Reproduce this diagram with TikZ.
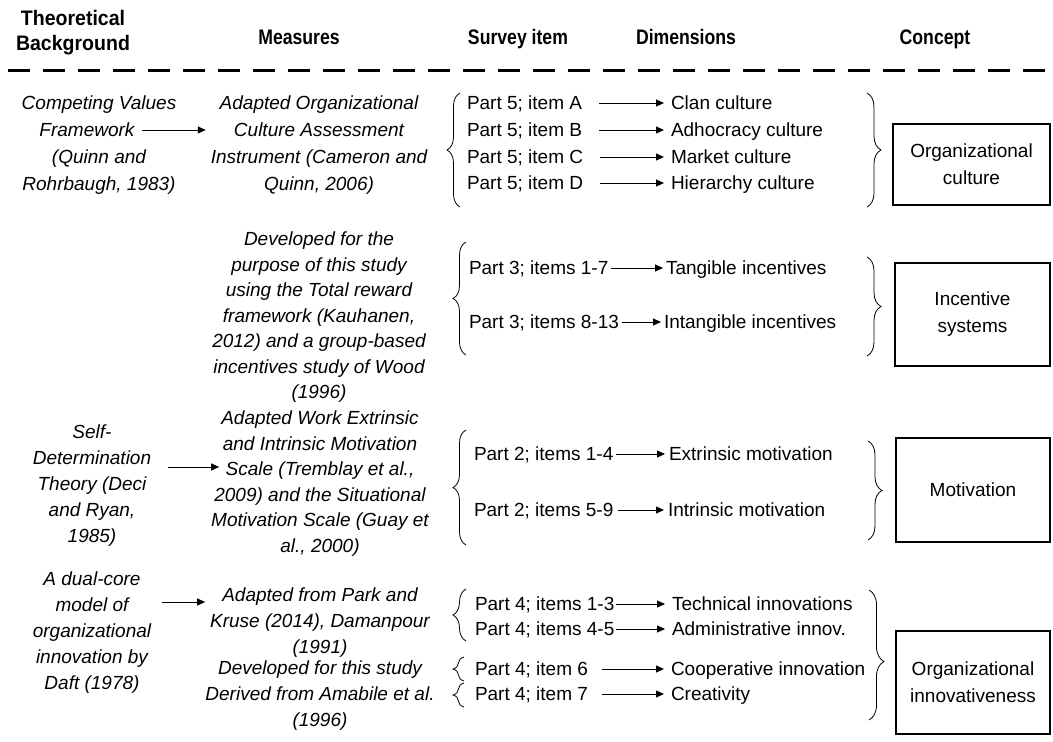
\documentclass[tikz,border=0pt]{standalone}
\usepackage{fontspec}
\setmainfont{Liberation Sans}
\newfontfamily\headfont{Liberation Sans}[FakeStretch=0.84]
\newfontfamily\headfontwide{Liberation Sans}[FakeStretch=0.93]
\usetikzlibrary{arrows.meta,decorations.pathreplacing}

\begin{document}
\begin{tikzpicture}[x=1pt,y=-1pt,
  every node/.style={inner sep=0pt,outer sep=0pt},
  hdr/.style={font=\headfont\bfseries\fontsize{21}{25}\selectfont, text height=15pt, text depth=0pt},
  src/.style={font=\itshape\fontsize{19}{#1}\selectfont, align=center, anchor=north},
  src/.default=26pt,
  lbl/.style={font=\fontsize{19}{26}\selectfont, anchor=west, text height=13.6pt, text depth=0pt},
  arr/.style={line width=0.9pt, -{Triangle[length=8pt,width=7pt]}},
  brc/.style={decorate, decoration={brace, amplitude=#1}, line width=0.8pt},
  brc/.default=13pt,
  cbox/.style={draw, line width=2.5pt, font=\fontsize{19}{27}\selectfont, align=center},
]
\useasboundingbox (0,0) rectangle (1053,742);

% column headings
\node[font=\headfontwide\bfseries\fontsize{21}{25}\selectfont, align=center] (h1) at (73,33) {Theoretical\\Background};
\node[hdr] (h2) at (299,37) {Measures};
\node[hdr] (h3) at (518,37) {Survey item};
\node[hdr] (h4) at (686,37) {Dimensions};
\node[hdr] (h5) at (935,37) {Concept};
\draw[line width=3pt, dash pattern=on 22pt off 13pt] (8,70) -- (1053,70);

% ---------- organizational culture ----------
\node[src=26.8pt] (t1) at (99,96) {Competing Values\\Framework\makebox[24pt]{}\\(Quinn and\\Rohrbaugh, 1983)};
\node[src=26.8pt] (m1) at (319,96) {Adapted Organizational\\Culture Assessment\\Instrument (Cameron and\\Quinn, 2006)};
\coordinate (a1) at (142,130);
\draw[arr, shorten >=5pt] (a1) -- (a1 -| m1.west);

\draw[brc] (460,207) -- (460,93);
\node[lbl] (i1a) at (467,103) {Part 5; item A};
\node[lbl] (i1b) at (467,130) {Part 5; item B};
\node[lbl] (i1c) at (467,157) {Part 5; item C};
\node[lbl] (i1d) at (467,183) {Part 5; item D};
\node[lbl] (d1a) at (671,103) {Clan culture};
\node[lbl] (d1b) at (671,130) {Adhocracy culture};
\node[lbl] (d1c) at (671,157) {Market culture};
\node[lbl] (d1d) at (671,183) {Hierarchy culture};
\foreach \k in {a,b,c,d}
  \draw[arr, shorten <=17pt, shorten >=7pt] (i1\k.east) -- (d1\k.west);
\draw[brc=14pt] (867,93) -- (867,207);
\node[cbox, minimum width=157pt, minimum height=81pt] (c1) at (971.5,164.5) {Organizational\\culture};

% ---------- incentive systems ----------
\node[src=25.5pt] (m2) at (319,232) {Developed for the\\purpose of this study\\using the Total reward\\framework (Kauhanen,\\2012) and a group-based\\incentives study of Wood\\(1996)};
\draw[brc] (466,355) -- (466,242);
\node[lbl] (i2a) at (469,268) {Part 3; items 1-7};
\node[lbl] (i2b) at (469,322) {Part 3; items 8-13};
\node[lbl] (d2a) at (666,268) {Tangible incentives};
\node[lbl] (d2b) at (664,322) {Intangible incentives};
\draw[arr, shorten <=3pt, shorten >=3pt] (i2a.east) -- (d2a.west);
\draw[arr, shorten <=3pt, shorten >=3pt] (i2b.east) -- (d2b.west);
\draw[brc=14pt] (867,257) -- (867,356);
\node[cbox, minimum width=155pt, minimum height=103pt] (c2) at (972.5,314.5) {Incentive\\systems};

% ---------- motivation ----------
\node[src] (t3) at (92,425) {Self-\\Determination\\Theory (Deci\\and Ryan,\\1985)};
\node[src=25.5pt] (m3) at (320,411) {Adapted Work Extrinsic\\and Intrinsic Motivation\\Scale (Tremblay et al.,\\2009) and the Situational\\Motivation Scale (Guay et\\al., 2000)};
\coordinate (a3) at (168,467);
\draw[arr, shorten >=-8pt] (a3) -- (a3 -| m3.west);

\draw[brc] (466,545) -- (466,430);
\node[lbl] (i3a) at (474,454) {Part 2; items 1-4};
\node[lbl] (i3b) at (474,510) {Part 2; items 5-9};
\node[lbl] (d3a) at (669,454) {Extrinsic motivation};
\node[lbl] (d3b) at (668,510) {Intrinsic motivation};
\draw[arr, shorten <=3pt, shorten >=4pt] (i3a.east) -- (d3a.west);
\draw[arr, shorten <=5pt, shorten >=4pt] (i3b.east) -- (d3b.west);
\draw[brc=14pt] (868,441) -- (868,540);
\node[cbox, minimum width=154pt, minimum height=104pt] (c3) at (973,490) {Motivation};

% ---------- organizational innovativeness ----------
\node[src] (t4) at (92,572) {A dual-core\\model of\\organizational\\innovation by\\Daft (1978)};
\node[src] (m4a) at (320,588) {Adapted from Park and\\Kruse (2014), Damanpour\\(1991)};
\node[src] (m4b) at (320,661) {Developed for this study\\Derived from Amabile et al.\\(1996)};
\coordinate (a4) at (162,602);
\draw[arr, shorten >=5pt] (a4) -- (a4 -| m4a.west);

\draw[brc] (466,641) -- (466,589);
\draw[brc=11pt] (464,681) -- (464,657);
\draw[brc=11pt] (464,707) -- (464,683);
\node[lbl] (i4a) at (475,604) {Part 4; items 1-3};
\node[lbl] (i4b) at (475,629) {Part 4; items 4-5};
\node[lbl] (i4c) at (475,669) {Part 4; item 6};
\node[lbl] (i4d) at (475,694) {Part 4; item 7};
\node[lbl] (d4a) at (672,604) {Technical innovations};
\node[lbl] (d4b) at (672,629) {Administrative innov.};
\node[lbl] (d4c) at (671,669) {Cooperative innovation};
\node[lbl] (d4d) at (671,694) {Creativity};
\draw[arr, shorten <=2pt, shorten >=7pt] (i4a.east) -- (d4a.west);
\draw[arr, shorten <=2pt, shorten >=7pt] (i4b.east) -- (d4b.west);
\draw[arr, shorten <=14pt, shorten >=7pt] (i4c.east) -- (d4c.west);
\draw[arr, shorten <=14pt, shorten >=7pt] (i4d.east) -- (d4d.west);
\draw[decorate, decoration={brace, amplitude=15pt, aspect=0.55}, line width=0.8pt] (869,590) -- (869,720);
\node[cbox, minimum width=154pt, minimum height=103pt] (c4) at (973,682.5) {Organizational\\innovativeness};
\end{tikzpicture}
\end{document}
